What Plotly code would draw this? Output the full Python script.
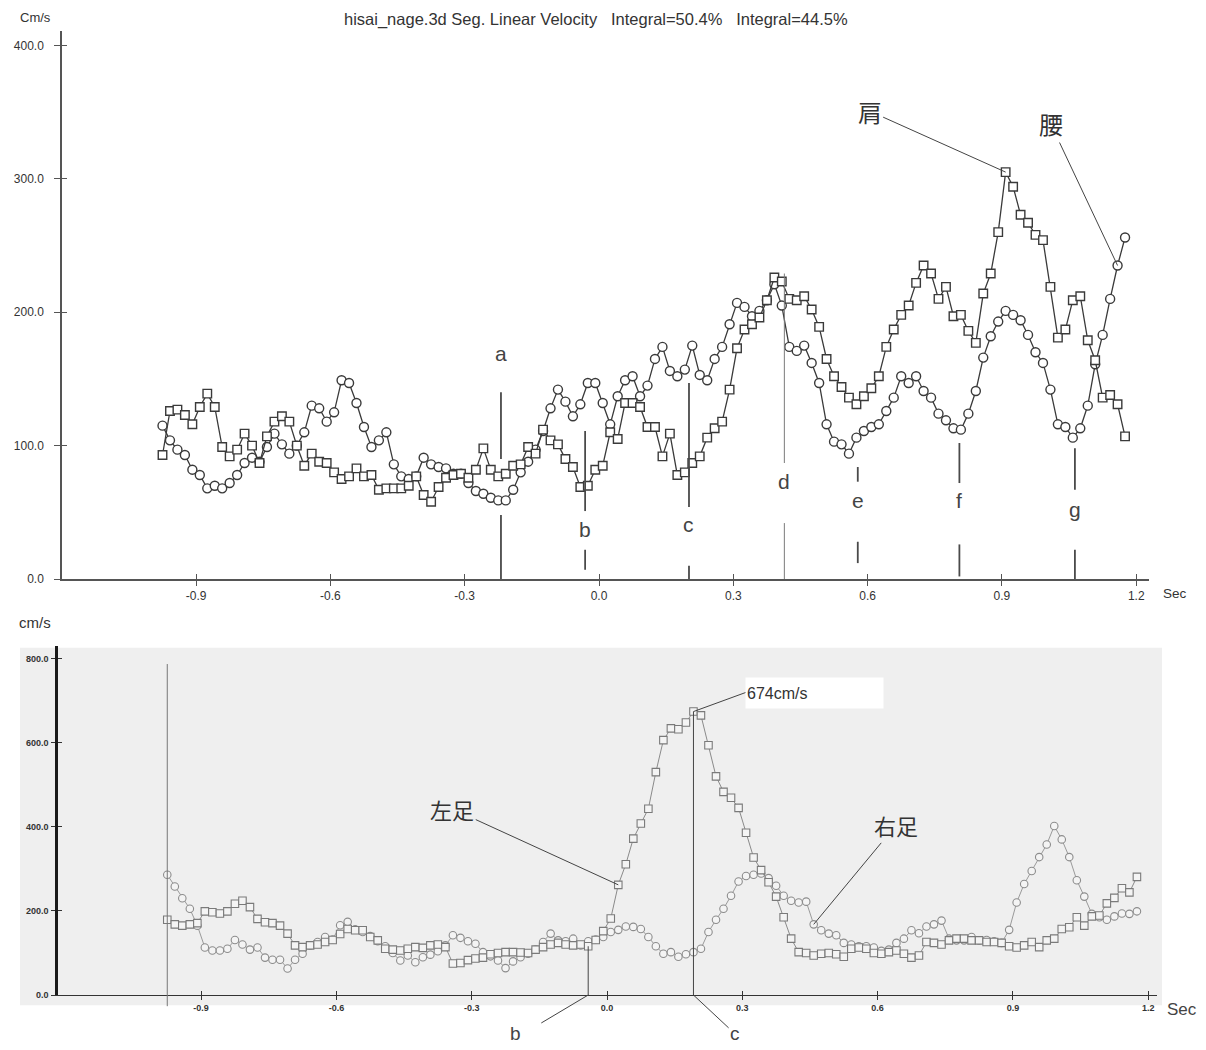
import plotly.graph_objects as go

W, H = 1206, 1050

# ---- sampling clock (60 Hz capture) -------------------------------------
FPS = 60.0
T_START = -0.975
N_FRAMES = 130
time_s = [round(T_START + k / FPS, 4) for k in range(N_FRAMES)]

# ---- upper panel: segment linear velocity (cm/s) -------------------------
hip = [  # 腰 (circles)
    115, 104, 97, 93, 82, 78, 68, 70, 68, 72,
    78, 87, 91, 88, 99, 109, 101, 94, 100, 110,
    130, 128, 118, 125, 149, 147, 132, 114, 99, 104,
    110, 86, 77, 75, 77, 91, 86, 84, 83, 79,
    79, 72, 66, 64, 61, 59, 59, 67, 80, 88,
    97, 111, 128, 142, 133, 122, 131, 147, 147, 132,
    116, 137, 149, 152, 137, 145, 165, 174, 156, 152,
    157, 175, 153, 149, 165, 174, 191, 207, 204, 197,
    201, 209, 221, 205, 174, 171, 175, 162, 147, 116,
    103, 101, 94, 106, 111, 114, 116, 126, 136, 152,
    147, 152, 141, 136, 124, 119, 113, 112, 124, 141,
    166, 182, 193, 201, 198, 194, 183, 170, 162, 142,
    116, 114, 106, 113, 130, 161, 183, 210, 235, 256,
]
shoulder = [  # 肩 (squares)
    93, 126, 127, 123, 116, 129, 139, 129, 99, 92,
    97, 109, 100, 87, 107, 118, 122, 118, 100, 85,
    94, 88, 87, 80, 75, 77, 83, 77, 78, 67,
    68, 68, 68, 70, 77, 63, 58, 69, 76, 78,
    79, 76, 82, 98, 82, 77, 79, 85, 86, 99,
    94, 112, 104, 101, 90, 84, 69, 70, 82, 85,
    110, 105, 132, 132, 129, 114, 114, 92, 109, 78,
    80, 87, 92, 106, 113, 118, 142, 173, 187, 191,
    196, 209, 226, 223, 210, 209, 212, 202, 189, 165,
    152, 144, 136, 131, 137, 143, 152, 174, 187, 198,
    205, 222, 235, 229, 210, 219, 197, 198, 186, 177,
    214, 229, 260, 305, 294, 273, 267, 258, 254, 219,
    181, 187, 209, 212, 179, 164, 136, 138, 131, 107,
]

# ---- lower panel: foot linear velocity (cm/s) ---------------------------
right_foot = [  # 右足 (circles)
    286, 258, 230, 205, 165, 113, 106, 106, 110, 131,
    120, 108, 113, 89, 84, 84, 63, 84, 98, 118,
    126, 138, 132, 166, 174, 156, 150, 140, 128, 116,
    100, 82, 94, 78, 90, 96, 104, 118, 142, 136,
    128, 122, 102, 92, 82, 64, 80, 90, 98, 108,
    126, 146, 130, 128, 134, 118, 128, 132, 138, 150,
    155, 163, 162, 157, 138, 116, 98, 102, 91, 97,
    102, 110, 150, 179, 205, 236, 270, 283, 286, 289,
    278, 260, 236, 224, 220, 222, 168, 154, 146, 142,
    124, 120, 116, 116, 113, 105, 108, 124, 134, 154,
    147, 163, 168, 177, 134, 130, 130, 138, 130, 131,
    128, 124, 155, 220, 264, 295, 328, 358, 402, 370,
    328, 273, 234, 193, 185, 179, 187, 194, 193, 199,
]
left_foot = [  # 左足 (squares)
    179, 168, 165, 168, 171, 199, 197, 194, 199, 217,
    224, 209, 181, 173, 171, 165, 146, 118, 114, 118,
    120, 126, 131, 145, 157, 154, 154, 138, 130, 110,
    108, 106, 110, 114, 112, 118, 120, 114, 75, 76,
    83, 87, 89, 97, 100, 102, 102, 101, 100, 108,
    114, 120, 124, 120, 118, 120, 116, 131, 152, 182,
    262, 311, 372, 408, 443, 530, 606, 634, 632, 648,
    674, 665, 594, 520, 483, 469, 445, 386, 327, 297,
    268, 234, 185, 134, 102, 100, 94, 98, 100, 97,
    91, 110, 113, 110, 100, 98, 102, 106, 98, 89,
    94, 126, 124, 120, 130, 134, 134, 130, 130, 126,
    126, 124, 116, 113, 118, 126, 114, 130, 134, 157,
    161, 185, 165, 187, 189, 218, 231, 254, 244, 281,
]

# ---- ticks ---------------------------------------------------------------
x_ticks = [-0.9, -0.6, -0.3, 0.0, 0.3, 0.6, 0.9, 1.2]
x_tick_labels = ["-0.9", "-0.6", "-0.3", "0.0", "0.3", "0.6", "0.9", "1.2"]
top_y_ticks = [0, 100, 200, 300, 400]
bottom_y_ticks = [0, 200, 400, 600, 800]

# ---- motion phase events on the upper panel ------------------------------
event_names = ["a", "b", "c", "d", "e", "f", "g"]
event_times = [-0.219, -0.031, 0.201, 0.414, 0.578, 0.805, 1.063]

# layout of the phase markers: (upper segment), label height, (lower segment)
event_layout = {
    "a": ((140, 90), 169, (48, 0)),
    "b": ((111, 51), 37, (22, 7)),
    "c": ((147, 54), 41, (10, 0)),
    "d": ((229, 87), 73, (42, 0)),
    "e": ((84, 73), 59, (28, 12)),
    "f": ((102, 72), 59, (26, 2)),
    "g": ((98, 67), 52, (22, 0)),
}

# key frames referenced by the callouts
I_SHOULDER_PEAK = 113
I_HIP_CALLOUT = 128
I_LEFT_CALLOUT = 60
I_RIGHT_CALLOUT = 86
I_B = 56
I_PEAK = 70

FONT = "Liberation Sans, Arial, sans-serif"
CJK = "Noto Sans CJK JP, Noto Sans CJK SC, sans-serif"
DARK = "#3a3a3a"
GREY = "#8c8c8c"


def px(x):
    return x / W


def py(y):
    return 1 - y / H


def label(x, y, text, size, color="#333", anchor="center"):
    """Free-standing text placed on the page."""
    return dict(xref="paper", yref="paper", x=px(x), y=py(y), text=text,
                xanchor=anchor, yanchor="middle", showarrow=False,
                font=dict(family=FONT, size=size, color=color))


TOP_X_RANGE = [-1.1995, 1.2285]
TOP_Y_RANGE = [0, 410.9]
BOT_X_RANGE = [-1.2173, 1.2195]
BOT_Y_RANGE = [0, 830.7]

fig = go.Figure()

# upper panel series
fig.add_trace(go.Scatter(
    x=time_s, y=hip, mode="lines+markers", xaxis="x", yaxis="y",
    line=dict(color=DARK, width=1.3),
    marker=dict(symbol="circle", size=9, color="white",
                line=dict(color=DARK, width=1.4)),
    name="腰"))
fig.add_trace(go.Scatter(
    x=time_s, y=shoulder, mode="lines+markers", xaxis="x", yaxis="y",
    line=dict(color=DARK, width=1.3),
    marker=dict(symbol="square", size=8.5, color="white",
                line=dict(color=DARK, width=1.4)),
    name="肩"))

# lower panel series
fig.add_trace(go.Scatter(
    x=time_s, y=right_foot, mode="lines+markers", xaxis="x2", yaxis="y2",
    line=dict(color="#9a9a9a", width=1),
    marker=dict(symbol="circle", size=7.5, color="#f4f4f4",
                line=dict(color=GREY, width=1.1)),
    name="右足"))
fig.add_trace(go.Scatter(
    x=time_s, y=left_foot, mode="lines+markers", xaxis="x2", yaxis="y2",
    line=dict(color="#8a8a8a", width=1),
    marker=dict(symbol="square", size=7.5, color="#f4f4f4",
                line=dict(color="#7a7a7a", width=1.1)),
    name="左足"))

# empty traces that carry the inward half of the cross-shaped ticks
fig.add_trace(go.Scatter(x=[], y=[], xaxis="x3", yaxis="y3", showlegend=False))
fig.add_trace(go.Scatter(x=[], y=[], xaxis="x4", yaxis="y4", showlegend=False))

shapes = []
# grey backdrop of the lower panel
shapes.append(dict(type="rect", xref="paper", yref="paper",
                   x0=px(20), x1=px(1162), y0=py(1012), y1=py(652),
                   fillcolor="#efefef", line=dict(width=0), layer="below"))

annotations = []

# phase markers a-g
for name, t in zip(event_names, event_times):
    (u0, u1), ly, (l0, l1) = event_layout[name]
    thin = name == "d"
    col = "#7a7a7a" if thin else "#4a4a4a"
    wid = 1 if thin else 1.8
    for y0, y1 in ((u0, u1), (l0, l1)):
        shapes.append(dict(type="line", xref="x", yref="y", x0=t, x1=t,
                           y0=y0, y1=y1, line=dict(color=col, width=wid)))
    annotations.append(dict(xref="x", yref="y", x=t, y=ly, text=name,
                            showarrow=False,
                            font=dict(family=FONT, size=21, color="#444")))

# lower panel: start cursor
y_span = BOT_Y_RANGE[1]
shapes.append(dict(type="line", xref="x2", yref="y2 domain",
                   x0=time_s[0], x1=time_s[0], y0=-0.032, y1=787 / y_span,
                   line=dict(color="#777", width=1)))
# lower panel: b and c cursors with leader lines below the axis
tb, tc = time_s[I_B], time_s[I_PEAK]
shapes.append(dict(type="line", xref="x2", yref="y2", x0=tb, x1=tb,
                   y0=0, y1=left_foot[I_B], line=dict(color="#444", width=1)))
shapes.append(dict(type="line", xref="x2", yref="y2 domain", x0=tb, x1=tb - 0.104,
                   y0=0, y1=-0.08, line=dict(color="#444", width=1)))
shapes.append(dict(type="line", xref="x2", yref="y2", x0=tc, x1=tc,
                   y0=0, y1=left_foot[I_PEAK], line=dict(color="#444", width=1)))
shapes.append(dict(type="line", xref="x2", yref="y2 domain", x0=tc, x1=tc + 0.078,
                   y0=0, y1=-0.094, line=dict(color="#444", width=1)))

# texts
annotations += [
    label(35, 18, "Cm/s", 13),
    label(342, 20,
          "hisai_nage.3d Seg. Linear Velocity   Integral=50.4%   Integral=44.5%",
          16.5, anchor="left"),
    label(1175, 597, "Sec", 13.5),
    label(35, 627, "cm/s", 15),
    label(1182, 1016, "Sec", 17, color="#444"),
    label(515, 1040, "b", 19, color="#444"),
    label(735, 1040, "c", 19, color="#444"),
]

# callouts pointing at the series
callout = dict(showarrow=True, arrowhead=0, arrowwidth=1, arrowcolor="#444")
annotations += [
    dict(xref="x", yref="y", x=time_s[I_SHOULDER_PEAK], y=shoulder[I_SHOULDER_PEAK],
         ax=-136, ay=-61, text="肩", font=dict(family=CJK, size=24, color="#333"),
         **callout),
    dict(xref="x", yref="y", x=time_s[I_HIP_CALLOUT], y=hip[I_HIP_CALLOUT],
         ax=-67, ay=-142, text="腰", font=dict(family=CJK, size=24, color="#333"),
         **callout),
    dict(xref="x2", yref="y2", x=time_s[I_LEFT_CALLOUT], y=left_foot[I_LEFT_CALLOUT],
         ax=-166, ay=-76, text="左足", font=dict(family=CJK, size=22, color="#333"),
         **callout),
    dict(xref="x2", yref="y2", x=time_s[I_RIGHT_CALLOUT], y=right_foot[I_RIGHT_CALLOUT],
         ax=82, ay=-99, text="右足", font=dict(family=CJK, size=22, color="#333"),
         **callout),
    dict(xref="x2", yref="y2", x=time_s[I_PEAK], y=left_foot[I_PEAK],
         ax=52, ay=-19, xanchor="left", yanchor="middle", align="left",
         width=135, height=28, bgcolor="white",
         text=f"{left_foot[I_PEAK]:.0f}cm/s",
         font=dict(family=FONT, size=16, color="#333"), **callout),
]

tick_font_top = dict(family=FONT, size=12, color="#333")
tick_font_bot = dict(family=FONT, size=9, color="#333", weight="bold")

TOP_XD = [px(62), px(1149)]
TOP_YD = [py(583), py(31)]
BOT_XD = [px(58), px(1157)]
BOT_YD = [py(1001.7), py(650)]

common = dict(showgrid=False, zeroline=False, fixedrange=True)

fig.update_layout(
    width=W, height=H, margin=dict(l=0, r=0, t=0, b=0),
    paper_bgcolor="white", plot_bgcolor="rgba(0,0,0,0)", showlegend=False,
    shapes=shapes, annotations=annotations,
    xaxis=dict(domain=TOP_XD, range=TOP_X_RANGE, anchor="y", showline=True,
               linecolor="#555", linewidth=1.5, ticks="outside", ticklen=5,
               tickwidth=1.2, tickcolor="#555", tickvals=x_ticks,
               ticktext=x_tick_labels, tickfont=tick_font_top, **common),
    yaxis=dict(domain=TOP_YD, range=TOP_Y_RANGE, anchor="x", showline=True,
               linecolor="#555", linewidth=1.5, ticks="outside", ticklen=6,
               tickwidth=1.2, tickcolor="#555", tickvals=top_y_ticks,
               tickformat=".1f", tickfont=tick_font_top, ticklabelstandoff=8,
               **common),
    xaxis3=dict(overlaying="x", range=TOP_X_RANGE, anchor="y3", showline=False,
                ticks="inside", ticklen=5, tickwidth=1.2, tickcolor="#555",
                tickvals=x_ticks, showticklabels=False, **common),
    yaxis3=dict(overlaying="y", range=TOP_Y_RANGE, anchor="x3", side="left",
                showline=False, ticks="inside", ticklen=5, tickwidth=1.2,
                tickcolor="#555", tickvals=top_y_ticks, showticklabels=False,
                **common),
    xaxis2=dict(domain=BOT_XD, range=BOT_X_RANGE, anchor="y2", showline=True,
                linecolor="#333", linewidth=1.3, ticks="outside", ticklen=4,
                tickwidth=1, tickcolor="#333", tickvals=x_ticks,
                ticktext=x_tick_labels, tickfont=tick_font_bot, **common),
    yaxis2=dict(domain=BOT_YD, range=BOT_Y_RANGE, anchor="x2", showline=True,
                linecolor="#1a1a1a", linewidth=2.5, ticks="outside", ticklen=4,
                tickwidth=1, tickcolor="#333", tickvals=bottom_y_ticks,
                tickformat=".1f", tickfont=tick_font_bot, ticklabelstandoff=1,
                **common),
    xaxis4=dict(overlaying="x2", range=BOT_X_RANGE, anchor="y4", showline=False,
                ticks="inside", ticklen=4, tickwidth=1, tickcolor="#333",
                tickvals=x_ticks, showticklabels=False, **common),
    yaxis4=dict(overlaying="y2", range=BOT_Y_RANGE, anchor="x4", side="left",
                showline=False, ticks="inside", ticklen=4, tickwidth=1,
                tickcolor="#333", tickvals=bottom_y_ticks, showticklabels=False,
                **common),
)

fig.write_html("out.html")
